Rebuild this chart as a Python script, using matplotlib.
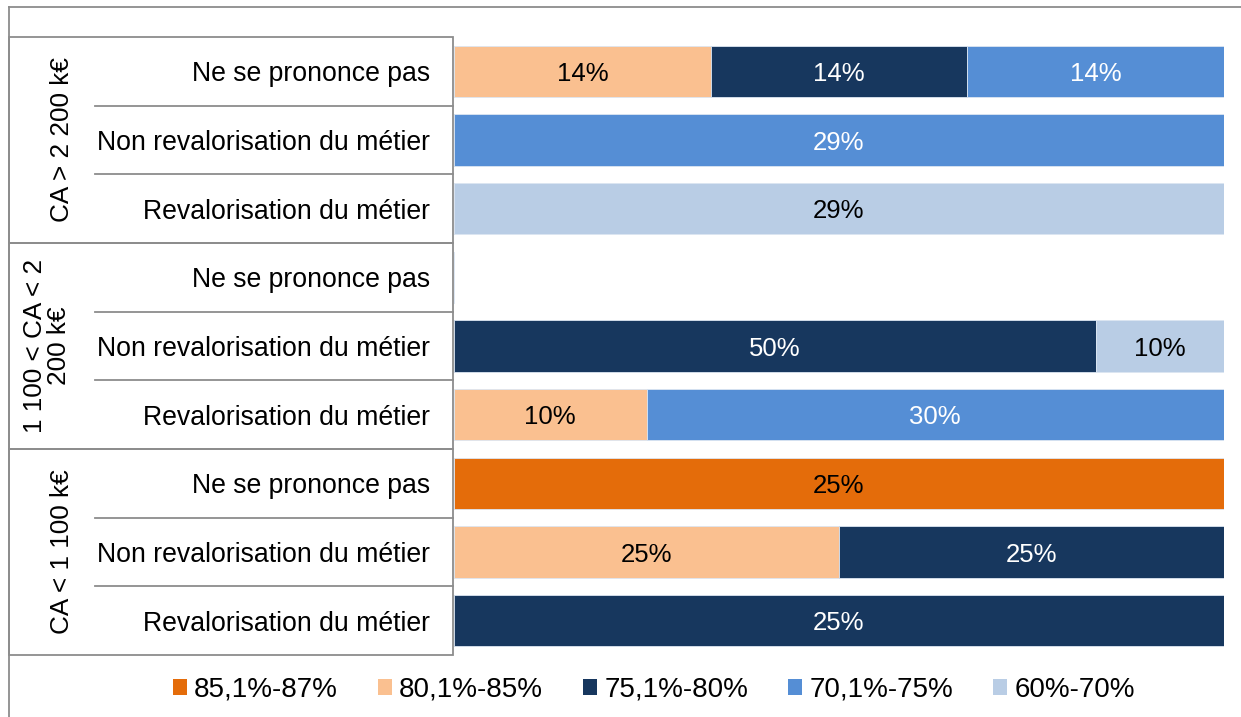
import matplotlib
matplotlib.use("Agg")
import matplotlib.pyplot as plt
import numpy as np
from matplotlib.patches import Patch, Rectangle
from matplotlib.lines import Line2D
from matplotlib.transforms import blended_transform_factory

plt.rcParams['font.family'] = ['Liberation Sans', 'DejaVu Sans']

groups = ["CA > 2 200 k€", "1 100 < CA < 2\n200 k€", "CA < 1 100 k€"]
categories = ["Ne se prononce pas", "Non revalorisation du métier", "Revalorisation du métier"]
series = ["85,1%-87%", "80,1%-85%", "75,1%-80%", "70,1%-75%", "60%-70%"]
colors = ["#E46C0A", "#FAC090", "#17375E", "#558ED5", "#B9CDE5"]
text_colors = ["black", "black", "white", "white", "black"]

# values per row (top to bottom), one list per series
s_85_87 = [0, 0, 0, 0, 0, 0, 25, 0, 0]
s_80_85 = [14, 0, 0, 0, 0, 10, 0, 25, 0]
s_75_80 = [14, 0, 0, 0, 50, 0, 0, 25, 25]
s_70_75 = [14, 29, 0, 0, 0, 30, 0, 0, 0]
s_60_70 = [0, 0, 29, 0, 10, 0, 0, 0, 0]
values = np.array([s_85_87, s_80_85, s_75_80, s_70_75, s_60_70], dtype=float)

row_labels = categories * len(groups)
n = values.shape[1]
totals = values.sum(axis=0)
shares = np.divide(values, totals, out=np.zeros_like(values), where=totals > 0)

W, H = 1241, 717
fig = plt.figure(figsize=(W / 100, H / 100), dpi=100)

def fx(p):
    return p / W

def fy(p):
    return 1 - p / H

ax = fig.add_axes([fx(454), fy(655), fx(1224) - fx(454), fy(37) - fy(655)])
y = np.arange(n)
left = np.zeros(n)
for i in range(len(series)):
    bars = ax.barh(y, shares[i], left=left, height=0.75, color=colors[i],
                   edgecolor="#DCE6F2", linewidth=0.6, label=series[i])
    labels = [f"{v:.0f}%" if v > 0 else "" for v in values[i]]
    txts = ax.bar_label(bars, labels=labels, label_type="center", color=text_colors[i], fontsize=18.5)
    for t in txts:
        t.set_va("center_baseline")
    left += shares[i]

ax.set_xlim(0, 1)
ax.set_ylim(n - 0.5, -0.5)
ax.set_yticks(y)
ax.set_yticklabels(row_labels, fontsize=19.2)
ax.tick_params(axis="y", length=0, pad=17)
ax.set_xticks([])
for sp in ax.spines.values():
    sp.set_visible(False)

# table structure
tr = blended_transform_factory(fig.transFigure, ax.transData)
gcol = "#8C8C8C"
for g, name in enumerate(groups):
    top = g * 3 - 0.5
    rect = Rectangle((fx(9), top), fx(453) - fx(9), 3, transform=tr, fill=False,
                     edgecolor=gcol, linewidth=1.3, clip_on=False)
    fig.add_artist(rect)
    for k in (1, 2):
        fig.add_artist(Line2D([fx(95), fx(453)], [top + k, top + k], transform=tr,
                              color=gcol, linewidth=1.3))
    xc = 62 if "\n" not in name else 47
    fig.text(fx(xc), g * 3 + 1, name, transform=tr,
             rotation=90, ha="center", va="center", fontsize=18.8, linespacing=1.0,
             multialignment="center")

# outer frame
fig.add_artist(Line2D([fx(9), 1], [fy(7), fy(7)], color=gcol, linewidth=1.3))
fig.add_artist(Line2D([fx(9), fx(9)], [fy(7), 0], color=gcol, linewidth=1.3))

handles = [Patch(facecolor=c, edgecolor="none") for c in colors]
fig.legend(handles, series, loc="center", bbox_to_anchor=(fx(654), fy(690)), ncol=5,
           frameon=False, fontsize=20, handlelength=0.5, handleheight=0.5,
           handletextpad=0.25, columnspacing=1.45)

fig.savefig("out.png", dpi=100)
